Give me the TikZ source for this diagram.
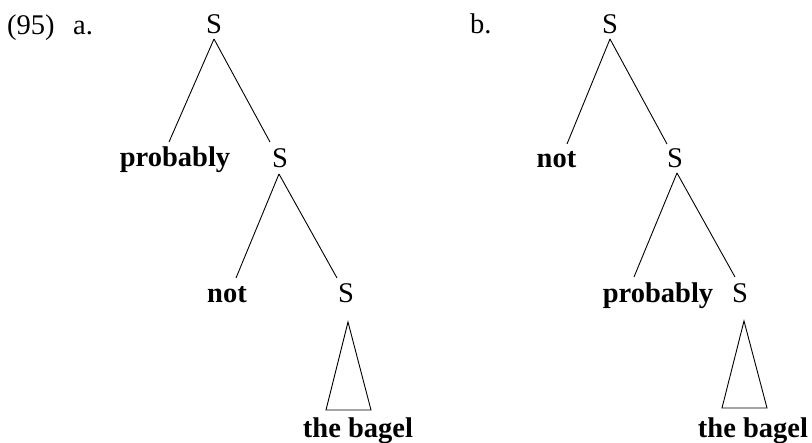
\documentclass[tikz,border=0pt]{standalone}
\usepackage{fontspec}
\setmainfont{Liberation Serif}
\usetikzlibrary{calc}
\begin{document}
\begin{tikzpicture}[x=1pt,y=-1pt,
  lab/.style={inner sep=0pt,font=\fontsize{28.5}{34}\selectfont},
  wd/.style={lab,font=\fontsize{28.5}{34}\selectfont\bfseries},
  br/.style={line width=0.9pt,line join=miter}]
\useasboundingbox (0,0) rectangle (812,443);
% labels
\node[lab,anchor=base west] (ex) at (7,35) {(95)};
\node[lab,anchor=base west] (la) at (73,35) {a.};
\node[lab,anchor=base west] (lb) at (470,34) {b.};
% tree a
\node[lab,anchor=base] (aS1) at (214,34) {S};
\node[wd,anchor=base] (aprob) at (175,167) {probably};
\node[lab,anchor=base] (aS2) at (280,168) {S};
\node[wd,anchor=base] (anot) at (227,303) {not};
\node[lab,anchor=base] (aS3) at (346,303) {S};
\node[wd,anchor=base] (abag) at (358,438) {the bagel};
\draw[br] ($(aS1.base)+(0,5)$) -- ($(aprob.base)+(-6,-25)$);
\draw[br] ($(aS1.base)+(0,5)$) -- ($(aS2.base)+(-10,-26)$);
\draw[br] ($(aS2.base)+(-1,6)$) -- ($(anot.base)+(9,-25)$);
\draw[br] ($(aS2.base)+(-1,6)$) -- ($(aS3.base)+(-9,-25)$);
\draw[br] ($(aS3.base)+(2,19)$) -- ($(aS3.base)+(-20,107)$) -- ($(aS3.base)+(25,107)$) -- cycle;
% tree b
\node[lab,anchor=base] (bS1) at (610,34) {S};
\node[wd,anchor=base] (bnot) at (556.5,168) {not};
\node[lab,anchor=base] (bS2) at (675,168) {S};
\node[wd,anchor=base] (bprob) at (658,303) {probably};
\node[lab,anchor=base] (bS3) at (740,303) {S};
\node[wd,anchor=base] (bbag) at (753,438) {the bagel};
\draw[br] ($(bS1.base)+(0,5)$) -- ($(bnot.base)+(10.5,-24)$);
\draw[br] ($(bS1.base)+(0,5)$) -- ($(bS2.base)+(-8,-24)$);
\draw[br] ($(bS2.base)+(2,5)$) -- ($(bprob.base)+(-24,-26)$);
\draw[br] ($(bS2.base)+(2,5)$) -- ($(bS3.base)+(-5,-26)$);
\draw[br] ($(bS3.base)+(4,18)$) -- ($(bS3.base)+(-18,105)$) -- ($(bS3.base)+(27,105)$) -- cycle;
\end{tikzpicture}
\end{document}
